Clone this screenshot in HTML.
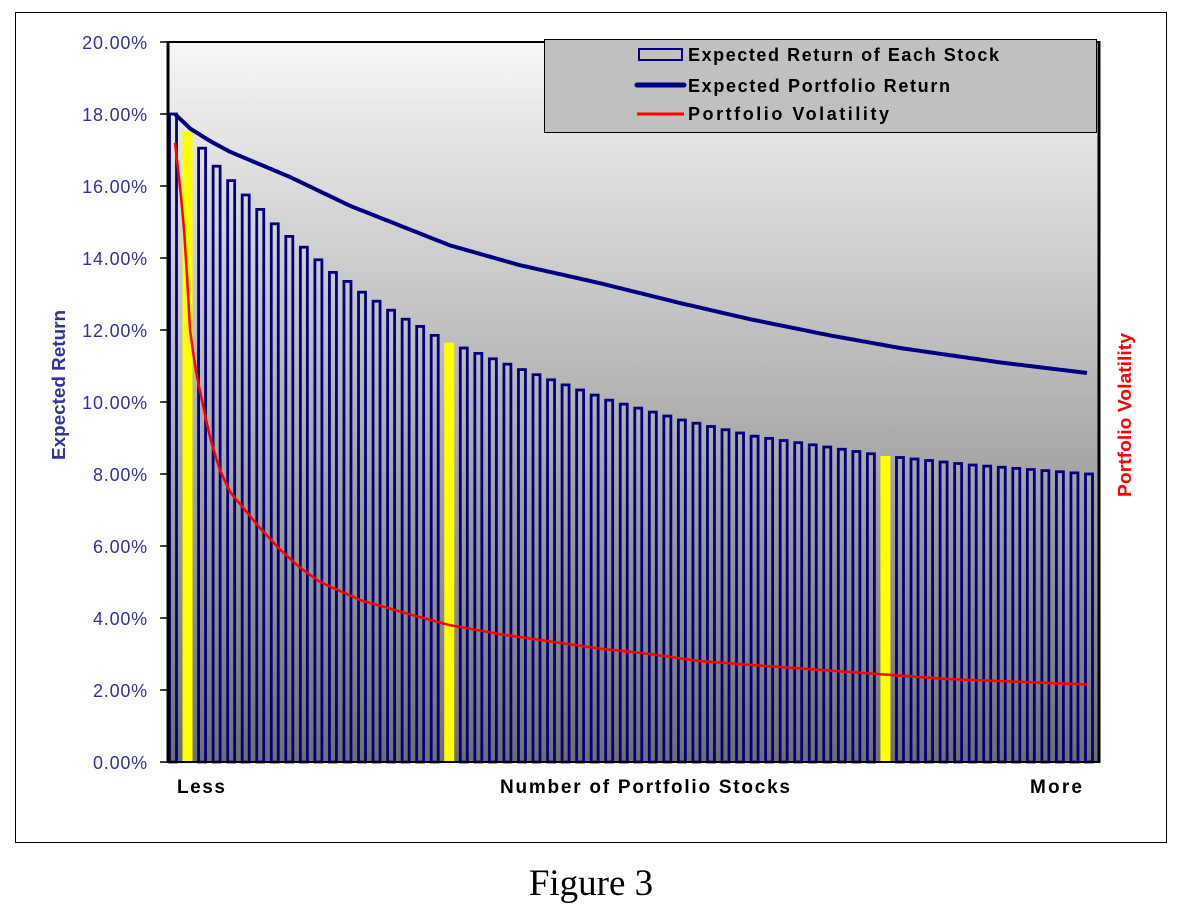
<!DOCTYPE html>
<html><head><meta charset="utf-8"><style>
body{margin:0;background:#fff;width:1199px;height:916px;overflow:hidden}
svg text{font-family:"Liberation Sans",sans-serif}
</style></head><body>
<svg id="s" width="1199" height="916" xmlns="http://www.w3.org/2000/svg">
<defs><linearGradient id="g" x1="0" y1="0" x2="0" y2="1"><stop offset="0" stop-color="#f6f6f6"/><stop offset="1" stop-color="#6e6e6e"/></linearGradient></defs>
<rect x="15.5" y="12.5" width="1151" height="830" fill="#fff" stroke="#000" stroke-width="1"/>
<rect x="168" y="42" width="931" height="720" fill="url(#g)" stroke="#000" stroke-width="2"/>
<g id="bars"></g>
<path id="ret" fill="none" stroke="#000080" stroke-width="4" stroke-linejoin="round"/>
<path id="vol" fill="none" stroke="#ff0000" stroke-width="2.5" stroke-linejoin="round"/>
<line x1="168" y1="41" x2="168" y2="763" stroke="#000" stroke-width="3"/>
<line x1="167" y1="762" x2="1099" y2="762" stroke="#000" stroke-width="2"/>
<line x1="1099" y1="41" x2="1099" y2="763" stroke="#000" stroke-width="3"/>
<g id="ticks" stroke="#000" stroke-width="1.5"></g>
<g font-size="18" fill="#333399" text-anchor="end" letter-spacing="0.8">
<text x="148" y="49">20.00%</text><text x="148" y="121">18.00%</text><text x="148" y="193">16.00%</text><text x="148" y="265">14.00%</text><text x="148" y="337">12.00%</text><text x="148" y="409">10.00%</text><text x="148" y="481">8.00%</text><text x="148" y="553">6.00%</text><text x="148" y="625">4.00%</text><text x="148" y="697">2.00%</text><text x="148" y="769">0.00%</text>
</g>
<text transform="translate(65,385) rotate(-90)" font-size="18" font-weight="bold" fill="#333399" text-anchor="middle" textLength="150" lengthAdjust="spacingAndGlyphs">Expected Return</text>
<text transform="translate(1131,415) rotate(-90)" font-size="18" font-weight="bold" fill="#ff0000" text-anchor="middle" textLength="164" lengthAdjust="spacingAndGlyphs">Portfolio Volatility</text>
<g font-size="19" font-weight="bold" fill="#000">
<text x="177" y="793" textLength="48" lengthAdjust="spacing">Less</text>
<text x="500" y="793" textLength="290" lengthAdjust="spacing">Number of Portfolio Stocks</text>
<text x="1030" y="793" textLength="52" lengthAdjust="spacing">More</text>
</g>
<rect x="544.5" y="39.5" width="552" height="93" fill="#c0c0c0" stroke="#000" stroke-width="1"/>
<rect x="639" y="49" width="43" height="11" fill="none" stroke="#000080" stroke-width="2"/>
<line x1="637" y1="85" x2="684" y2="85" stroke="#000080" stroke-width="5" stroke-linecap="round"/>
<line x1="637" y1="114" x2="684" y2="114" stroke="#ff0000" stroke-width="3"/>
<g font-size="18" font-weight="bold" fill="#000">
<text x="688" y="61" textLength="311" lengthAdjust="spacing">Expected Return of Each Stock</text>
<text x="688" y="92" textLength="262" lengthAdjust="spacing">Expected Portfolio Return</text>
<text x="688" y="120" textLength="201" lengthAdjust="spacing">Portfolio Volatility</text>
</g>
<text x="591" y="895" font-size="37" text-anchor="middle" style="font-family:'Liberation Serif',serif">Figure 3</text>
</svg>
<script>
function Y(v){return 762-v*36}
function interp(pts,x){for(var i=0;i<pts.length-1;i++){if(x<=pts[i+1][0]){var a=pts[i],b=pts[i+1];return a[1]+(b[1]-a[1])*(x-a[0])/(b[0]-a[0]);}}return pts[pts.length-1][1];}
var bv=[[0,18],[1,17.5],[2,17.05],[3,16.55],[4,16.15],[5,15.75],[6,15.35],[7,14.95],[8,14.6],[9,14.3],[10,13.95],[11,13.6],[12,13.35],[13,13.05],[14,12.8],[15,12.55],[16,12.3],[17,12.1],[18,11.85],[19,11.65],[24,10.9],[30,10.05],[35,9.5],[40,9.05],[45,8.75],[49,8.5],[55,8.25],[63,8.0]];
var g=document.getElementById("bars"),d=916/63,h="";
for(var i=0;i<64;i++){var c=173+d*i,v=interp(bv,i),y=Y(v);
if(i==1||i==19||i==49){h+='<rect x="'+(c-5)+'" y="'+y+'" width="10" height="'+(762-y)+'" fill="#ffff00"/>';}
else{h+='<rect x="'+(c-3.5)+'" y="'+y+'" width="7" height="'+(762-y)+'" fill="none" stroke="#000080" stroke-width="2.8"/>';}}
g.innerHTML=h;
var rp=[[175,18],[190,17.6],[210,17.25],[230,16.95],[260,16.6],[290,16.25],[320,15.85],[350,15.45],[400,14.9],[450,14.35],[520,13.8],[600,13.3],[680,12.75],[750,12.3],[830,11.85],[900,11.5],[1000,11.1],[1089,10.8]];
var vp=[[175,17.2],[180,16],[185,14.5],[190,12],[195,11],[200,10.3],[210,9],[220,8.1],[230,7.5],[245,7],[260,6.5],[280,5.9],[300,5.4],[320,5.0],[360,4.5],[410,4.1],[450,3.8],[500,3.55],[550,3.35],[600,3.15],[650,3.0],[700,2.8],[750,2.7],[800,2.6],[850,2.5],[900,2.4],[950,2.3],[1000,2.25],[1089,2.15]];
function path(p){var s="";for(var x=p[0][0];x<=p[p.length-1][0];x+=3){s+=(s?"L":"M")+x+","+Y(interp(p,x)).toFixed(1);}return s;}
document.getElementById("ret").setAttribute("d",path(rp));
document.getElementById("vol").setAttribute("d",path(vp));
var t="";for(var k=0;k<=10;k++){var yy=42+72*k;t+='<line x1="160" y1="'+yy+'" x2="168" y2="'+yy+'"/>';}
document.getElementById("ticks").innerHTML=t;
</script>
</body></html>
